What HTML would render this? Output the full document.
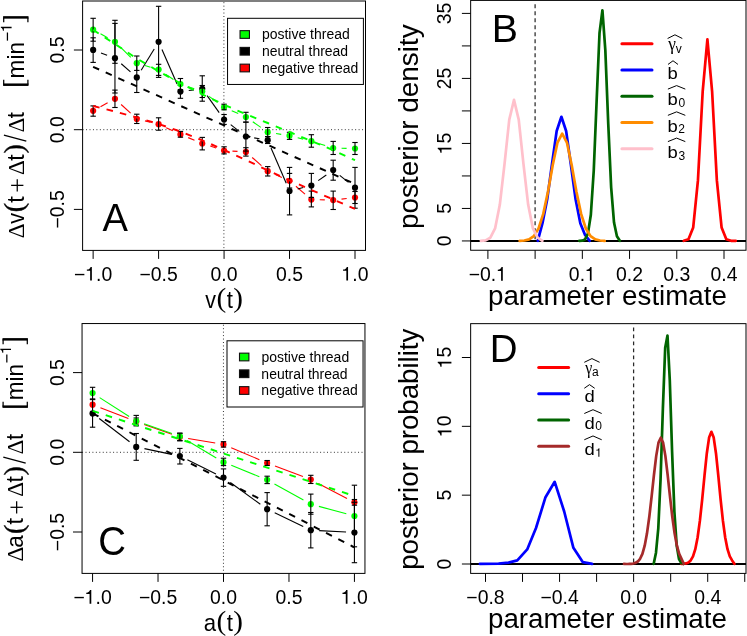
<!DOCTYPE html>
<html><head><meta charset="utf-8"><title>figure</title>
<style>html,body{margin:0;padding:0;background:#fff;}svg{display:block;will-change:transform;}</style>
</head><body>
<svg width="747" height="636" viewBox="0 0 747 636" font-family="Liberation Sans, sans-serif" fill="#000">
<rect x="0" y="0" width="747" height="636" fill="#fff"/>
<line x1="82.60" y1="129.70" x2="365.50" y2="129.70" stroke="#000" stroke-width="1" stroke-dasharray="1 2.45" opacity="0.8"/>
<line x1="223.90" y1="2.20" x2="223.90" y2="250.40" stroke="#000" stroke-width="1" stroke-dasharray="1 2.45" opacity="0.8"/>
<line x1="100.50" y1="106.75" x2="107.60" y2="102.85" stroke="#ff0000" stroke-width="1.1" />
<line x1="121.14" y1="104.49" x2="130.60" y2="113.21" stroke="#ff0000" stroke-width="1.1" />
<line x1="144.95" y1="120.88" x2="150.44" y2="122.22" stroke="#ff0000" stroke-width="1.1" />
<line x1="166.21" y1="127.76" x2="172.82" y2="130.84" stroke="#ff0000" stroke-width="1.1" />
<line x1="188.18" y1="137.63" x2="194.50" y2="140.27" stroke="#ff0000" stroke-width="1.1" />
<line x1="210.24" y1="146.10" x2="216.08" y2="148.00" stroke="#ff0000" stroke-width="1.1" />
<line x1="232.46" y1="151.10" x2="237.51" y2="151.40" stroke="#ff0000" stroke-width="1.1" />
<line x1="252.18" y1="157.47" x2="261.42" y2="165.63" stroke="#ff0000" stroke-width="1.1" />
<line x1="275.40" y1="174.58" x2="281.85" y2="177.42" stroke="#ff0000" stroke-width="1.1" />
<line x1="295.90" y1="186.28" x2="304.99" y2="194.12" stroke="#ff0000" stroke-width="1.1" />
<line x1="319.75" y1="199.79" x2="324.78" y2="199.91" stroke="#ff0000" stroke-width="1.1" />
<line x1="341.52" y1="199.11" x2="346.66" y2="198.49" stroke="#ff0000" stroke-width="1.1" />
<circle cx="93.14" cy="110.80" r="3.1" fill="#ff0000"/>
<circle cx="114.96" cy="98.80" r="3.1" fill="#ff0000"/>
<circle cx="136.78" cy="118.90" r="3.1" fill="#ff0000"/>
<circle cx="158.60" cy="124.20" r="3.1" fill="#ff0000"/>
<circle cx="180.43" cy="134.40" r="3.1" fill="#ff0000"/>
<circle cx="202.25" cy="143.50" r="3.1" fill="#ff0000"/>
<circle cx="224.07" cy="150.60" r="3.1" fill="#ff0000"/>
<circle cx="245.89" cy="151.90" r="3.1" fill="#ff0000"/>
<circle cx="267.71" cy="171.20" r="3.1" fill="#ff0000"/>
<circle cx="289.53" cy="180.80" r="3.1" fill="#ff0000"/>
<circle cx="311.36" cy="199.60" r="3.1" fill="#ff0000"/>
<circle cx="333.18" cy="200.10" r="3.1" fill="#ff0000"/>
<circle cx="355.00" cy="197.50" r="3.1" fill="#ff0000"/>
<line x1="93.14" y1="105.90" x2="93.14" y2="116.20" stroke="#000" stroke-width="1.1" />
<line x1="90.44" y1="105.90" x2="95.84" y2="105.90" stroke="#000" stroke-width="1.1" />
<line x1="90.44" y1="116.20" x2="95.84" y2="116.20" stroke="#000" stroke-width="1.1" />
<line x1="114.96" y1="90.10" x2="114.96" y2="107.50" stroke="#000" stroke-width="1.1" />
<line x1="112.26" y1="90.10" x2="117.66" y2="90.10" stroke="#000" stroke-width="1.1" />
<line x1="112.26" y1="107.50" x2="117.66" y2="107.50" stroke="#000" stroke-width="1.1" />
<line x1="136.78" y1="114.20" x2="136.78" y2="123.50" stroke="#000" stroke-width="1.1" />
<line x1="134.08" y1="114.20" x2="139.48" y2="114.20" stroke="#000" stroke-width="1.1" />
<line x1="134.08" y1="123.50" x2="139.48" y2="123.50" stroke="#000" stroke-width="1.1" />
<line x1="158.60" y1="117.80" x2="158.60" y2="130.20" stroke="#000" stroke-width="1.1" />
<line x1="155.91" y1="117.80" x2="161.30" y2="117.80" stroke="#000" stroke-width="1.1" />
<line x1="155.91" y1="130.20" x2="161.30" y2="130.20" stroke="#000" stroke-width="1.1" />
<line x1="180.43" y1="131.40" x2="180.43" y2="137.20" stroke="#000" stroke-width="1.1" />
<line x1="177.73" y1="131.40" x2="183.13" y2="131.40" stroke="#000" stroke-width="1.1" />
<line x1="177.73" y1="137.20" x2="183.13" y2="137.20" stroke="#000" stroke-width="1.1" />
<line x1="202.25" y1="137.40" x2="202.25" y2="149.90" stroke="#000" stroke-width="1.1" />
<line x1="199.55" y1="137.40" x2="204.95" y2="137.40" stroke="#000" stroke-width="1.1" />
<line x1="199.55" y1="149.90" x2="204.95" y2="149.90" stroke="#000" stroke-width="1.1" />
<line x1="224.07" y1="146.80" x2="224.07" y2="153.90" stroke="#000" stroke-width="1.1" />
<line x1="221.37" y1="146.80" x2="226.77" y2="146.80" stroke="#000" stroke-width="1.1" />
<line x1="221.37" y1="153.90" x2="226.77" y2="153.90" stroke="#000" stroke-width="1.1" />
<line x1="245.89" y1="147.70" x2="245.89" y2="156.10" stroke="#000" stroke-width="1.1" />
<line x1="243.19" y1="147.70" x2="248.59" y2="147.70" stroke="#000" stroke-width="1.1" />
<line x1="243.19" y1="156.10" x2="248.59" y2="156.10" stroke="#000" stroke-width="1.1" />
<line x1="267.71" y1="166.60" x2="267.71" y2="176.00" stroke="#000" stroke-width="1.1" />
<line x1="265.01" y1="166.60" x2="270.41" y2="166.60" stroke="#000" stroke-width="1.1" />
<line x1="265.01" y1="176.00" x2="270.41" y2="176.00" stroke="#000" stroke-width="1.1" />
<line x1="289.53" y1="173.40" x2="289.53" y2="188.00" stroke="#000" stroke-width="1.1" />
<line x1="286.83" y1="173.40" x2="292.23" y2="173.40" stroke="#000" stroke-width="1.1" />
<line x1="286.83" y1="188.00" x2="292.23" y2="188.00" stroke="#000" stroke-width="1.1" />
<line x1="311.36" y1="191.10" x2="311.36" y2="206.90" stroke="#000" stroke-width="1.1" />
<line x1="308.66" y1="191.10" x2="314.06" y2="191.10" stroke="#000" stroke-width="1.1" />
<line x1="308.66" y1="206.90" x2="314.06" y2="206.90" stroke="#000" stroke-width="1.1" />
<line x1="333.18" y1="191.10" x2="333.18" y2="209.50" stroke="#000" stroke-width="1.1" />
<line x1="330.48" y1="191.10" x2="335.88" y2="191.10" stroke="#000" stroke-width="1.1" />
<line x1="330.48" y1="209.50" x2="335.88" y2="209.50" stroke="#000" stroke-width="1.1" />
<line x1="355.00" y1="191.50" x2="355.00" y2="203.50" stroke="#000" stroke-width="1.1" />
<line x1="352.30" y1="191.50" x2="357.70" y2="191.50" stroke="#000" stroke-width="1.1" />
<line x1="352.30" y1="203.50" x2="357.70" y2="203.50" stroke="#000" stroke-width="1.1" />
<line x1="100.99" y1="52.89" x2="107.11" y2="55.21" stroke="#000000" stroke-width="1.1" />
<line x1="121.27" y1="63.75" x2="130.48" y2="71.85" stroke="#000000" stroke-width="1.1" />
<line x1="141.17" y1="70.24" x2="154.22" y2="48.96" stroke="#000000" stroke-width="1.1" />
<line x1="161.98" y1="49.49" x2="177.06" y2="83.91" stroke="#000000" stroke-width="1.1" />
<line x1="188.76" y1="90.53" x2="193.92" y2="89.87" stroke="#000000" stroke-width="1.1" />
<line x1="207.11" y1="95.65" x2="219.20" y2="112.65" stroke="#000000" stroke-width="1.1" />
<line x1="230.70" y1="124.66" x2="239.27" y2="131.34" stroke="#000000" stroke-width="1.1" />
<line x1="254.17" y1="137.90" x2="259.43" y2="138.80" stroke="#000000" stroke-width="1.1" />
<line x1="271.03" y1="147.92" x2="286.22" y2="183.28" stroke="#000000" stroke-width="1.1" />
<line x1="297.68" y1="188.95" x2="303.21" y2="187.55" stroke="#000000" stroke-width="1.1" />
<line x1="318.22" y1="180.66" x2="326.32" y2="174.94" stroke="#000000" stroke-width="1.1" />
<line x1="339.72" y1="175.37" x2="348.46" y2="182.43" stroke="#000000" stroke-width="1.1" />
<circle cx="93.14" cy="49.90" r="3.1" fill="#000000"/>
<circle cx="114.96" cy="58.20" r="3.1" fill="#000000"/>
<circle cx="136.78" cy="77.40" r="3.1" fill="#000000"/>
<circle cx="158.60" cy="41.80" r="3.1" fill="#000000"/>
<circle cx="180.43" cy="91.60" r="3.1" fill="#000000"/>
<circle cx="202.25" cy="88.80" r="3.1" fill="#000000"/>
<circle cx="224.07" cy="119.50" r="3.1" fill="#000000"/>
<circle cx="245.89" cy="136.50" r="3.1" fill="#000000"/>
<circle cx="267.71" cy="140.20" r="3.1" fill="#000000"/>
<circle cx="289.53" cy="191.00" r="3.1" fill="#000000"/>
<circle cx="311.36" cy="185.50" r="3.1" fill="#000000"/>
<circle cx="333.18" cy="170.10" r="3.1" fill="#000000"/>
<circle cx="355.00" cy="187.70" r="3.1" fill="#000000"/>
<line x1="93.14" y1="37.80" x2="93.14" y2="62.40" stroke="#000" stroke-width="1.1" />
<line x1="90.44" y1="37.80" x2="95.84" y2="37.80" stroke="#000" stroke-width="1.1" />
<line x1="90.44" y1="62.40" x2="95.84" y2="62.40" stroke="#000" stroke-width="1.1" />
<line x1="114.96" y1="23.40" x2="114.96" y2="93.00" stroke="#000" stroke-width="1.1" />
<line x1="112.26" y1="23.40" x2="117.66" y2="23.40" stroke="#000" stroke-width="1.1" />
<line x1="112.26" y1="93.00" x2="117.66" y2="93.00" stroke="#000" stroke-width="1.1" />
<line x1="136.78" y1="62.30" x2="136.78" y2="92.50" stroke="#000" stroke-width="1.1" />
<line x1="134.08" y1="62.30" x2="139.48" y2="62.30" stroke="#000" stroke-width="1.1" />
<line x1="134.08" y1="92.50" x2="139.48" y2="92.50" stroke="#000" stroke-width="1.1" />
<line x1="158.60" y1="6.30" x2="158.60" y2="77.40" stroke="#000" stroke-width="1.1" />
<line x1="155.91" y1="6.30" x2="161.30" y2="6.30" stroke="#000" stroke-width="1.1" />
<line x1="155.91" y1="77.40" x2="161.30" y2="77.40" stroke="#000" stroke-width="1.1" />
<line x1="180.43" y1="85.40" x2="180.43" y2="98.30" stroke="#000" stroke-width="1.1" />
<line x1="177.73" y1="85.40" x2="183.13" y2="85.40" stroke="#000" stroke-width="1.1" />
<line x1="177.73" y1="98.30" x2="183.13" y2="98.30" stroke="#000" stroke-width="1.1" />
<line x1="202.25" y1="75.80" x2="202.25" y2="101.20" stroke="#000" stroke-width="1.1" />
<line x1="199.55" y1="75.80" x2="204.95" y2="75.80" stroke="#000" stroke-width="1.1" />
<line x1="199.55" y1="101.20" x2="204.95" y2="101.20" stroke="#000" stroke-width="1.1" />
<line x1="224.07" y1="114.50" x2="224.07" y2="124.40" stroke="#000" stroke-width="1.1" />
<line x1="221.37" y1="114.50" x2="226.77" y2="114.50" stroke="#000" stroke-width="1.1" />
<line x1="221.37" y1="124.40" x2="226.77" y2="124.40" stroke="#000" stroke-width="1.1" />
<line x1="245.89" y1="122.10" x2="245.89" y2="151.10" stroke="#000" stroke-width="1.1" />
<line x1="243.19" y1="122.10" x2="248.59" y2="122.10" stroke="#000" stroke-width="1.1" />
<line x1="243.19" y1="151.10" x2="248.59" y2="151.10" stroke="#000" stroke-width="1.1" />
<line x1="267.71" y1="136.60" x2="267.71" y2="143.50" stroke="#000" stroke-width="1.1" />
<line x1="265.01" y1="136.60" x2="270.41" y2="136.60" stroke="#000" stroke-width="1.1" />
<line x1="265.01" y1="143.50" x2="270.41" y2="143.50" stroke="#000" stroke-width="1.1" />
<line x1="289.53" y1="167.40" x2="289.53" y2="214.90" stroke="#000" stroke-width="1.1" />
<line x1="286.83" y1="167.40" x2="292.23" y2="167.40" stroke="#000" stroke-width="1.1" />
<line x1="286.83" y1="214.90" x2="292.23" y2="214.90" stroke="#000" stroke-width="1.1" />
<line x1="311.36" y1="173.40" x2="311.36" y2="197.40" stroke="#000" stroke-width="1.1" />
<line x1="308.66" y1="173.40" x2="314.06" y2="173.40" stroke="#000" stroke-width="1.1" />
<line x1="308.66" y1="197.40" x2="314.06" y2="197.40" stroke="#000" stroke-width="1.1" />
<line x1="333.18" y1="160.20" x2="333.18" y2="180.20" stroke="#000" stroke-width="1.1" />
<line x1="330.48" y1="160.20" x2="335.88" y2="160.20" stroke="#000" stroke-width="1.1" />
<line x1="330.48" y1="180.20" x2="335.88" y2="180.20" stroke="#000" stroke-width="1.1" />
<line x1="355.00" y1="167.40" x2="355.00" y2="208.20" stroke="#000" stroke-width="1.1" />
<line x1="352.30" y1="167.40" x2="357.70" y2="167.40" stroke="#000" stroke-width="1.1" />
<line x1="352.30" y1="208.20" x2="357.70" y2="208.20" stroke="#000" stroke-width="1.1" />
<line x1="100.49" y1="33.77" x2="107.62" y2="37.73" stroke="#00ff00" stroke-width="1.1" />
<line x1="120.96" y1="47.68" x2="130.79" y2="57.32" stroke="#00ff00" stroke-width="1.1" />
<line x1="144.84" y1="65.56" x2="150.54" y2="67.24" stroke="#00ff00" stroke-width="1.1" />
<line x1="165.60" y1="74.25" x2="173.43" y2="79.45" stroke="#00ff00" stroke-width="1.1" />
<line x1="188.38" y1="86.80" x2="194.29" y2="88.80" stroke="#00ff00" stroke-width="1.1" />
<line x1="209.07" y1="96.41" x2="217.25" y2="102.29" stroke="#00ff00" stroke-width="1.1" />
<line x1="231.73" y1="110.64" x2="238.23" y2="113.56" stroke="#00ff00" stroke-width="1.1" />
<line x1="252.78" y1="121.80" x2="260.82" y2="127.40" stroke="#00ff00" stroke-width="1.1" />
<line x1="276.01" y1="133.53" x2="281.24" y2="134.37" stroke="#00ff00" stroke-width="1.1" />
<line x1="297.68" y1="137.75" x2="303.21" y2="139.15" stroke="#00ff00" stroke-width="1.1" />
<line x1="319.37" y1="143.73" x2="325.17" y2="145.57" stroke="#00ff00" stroke-width="1.1" />
<line x1="341.58" y1="148.25" x2="346.60" y2="148.35" stroke="#00ff00" stroke-width="1.1" />
<circle cx="93.14" cy="29.70" r="3.1" fill="#00ff00"/>
<circle cx="114.96" cy="41.80" r="3.1" fill="#00ff00"/>
<circle cx="136.78" cy="63.20" r="3.1" fill="#00ff00"/>
<circle cx="158.60" cy="69.60" r="3.1" fill="#00ff00"/>
<circle cx="180.43" cy="84.10" r="3.1" fill="#00ff00"/>
<circle cx="202.25" cy="91.50" r="3.1" fill="#00ff00"/>
<circle cx="224.07" cy="107.20" r="3.1" fill="#00ff00"/>
<circle cx="245.89" cy="117.00" r="3.1" fill="#00ff00"/>
<circle cx="267.71" cy="132.20" r="3.1" fill="#00ff00"/>
<circle cx="289.53" cy="135.70" r="3.1" fill="#00ff00"/>
<circle cx="311.36" cy="141.20" r="3.1" fill="#00ff00"/>
<circle cx="333.18" cy="148.10" r="3.1" fill="#00ff00"/>
<circle cx="355.00" cy="148.50" r="3.1" fill="#00ff00"/>
<line x1="93.14" y1="18.30" x2="93.14" y2="41.20" stroke="#000" stroke-width="1.1" />
<line x1="90.44" y1="18.30" x2="95.84" y2="18.30" stroke="#000" stroke-width="1.1" />
<line x1="90.44" y1="41.20" x2="95.84" y2="41.20" stroke="#000" stroke-width="1.1" />
<line x1="114.96" y1="20.30" x2="114.96" y2="63.30" stroke="#000" stroke-width="1.1" />
<line x1="112.26" y1="20.30" x2="117.66" y2="20.30" stroke="#000" stroke-width="1.1" />
<line x1="112.26" y1="63.30" x2="117.66" y2="63.30" stroke="#000" stroke-width="1.1" />
<line x1="136.78" y1="56.00" x2="136.78" y2="70.40" stroke="#000" stroke-width="1.1" />
<line x1="134.08" y1="56.00" x2="139.48" y2="56.00" stroke="#000" stroke-width="1.1" />
<line x1="134.08" y1="70.40" x2="139.48" y2="70.40" stroke="#000" stroke-width="1.1" />
<line x1="158.60" y1="64.30" x2="158.60" y2="75.40" stroke="#000" stroke-width="1.1" />
<line x1="155.91" y1="64.30" x2="161.30" y2="64.30" stroke="#000" stroke-width="1.1" />
<line x1="155.91" y1="75.40" x2="161.30" y2="75.40" stroke="#000" stroke-width="1.1" />
<line x1="180.43" y1="78.50" x2="180.43" y2="89.70" stroke="#000" stroke-width="1.1" />
<line x1="177.73" y1="78.50" x2="183.13" y2="78.50" stroke="#000" stroke-width="1.1" />
<line x1="177.73" y1="89.70" x2="183.13" y2="89.70" stroke="#000" stroke-width="1.1" />
<line x1="202.25" y1="85.50" x2="202.25" y2="97.50" stroke="#000" stroke-width="1.1" />
<line x1="199.55" y1="85.50" x2="204.95" y2="85.50" stroke="#000" stroke-width="1.1" />
<line x1="199.55" y1="97.50" x2="204.95" y2="97.50" stroke="#000" stroke-width="1.1" />
<line x1="224.07" y1="104.20" x2="224.07" y2="109.80" stroke="#000" stroke-width="1.1" />
<line x1="221.37" y1="104.20" x2="226.77" y2="104.20" stroke="#000" stroke-width="1.1" />
<line x1="221.37" y1="109.80" x2="226.77" y2="109.80" stroke="#000" stroke-width="1.1" />
<line x1="245.89" y1="112.30" x2="245.89" y2="122.20" stroke="#000" stroke-width="1.1" />
<line x1="243.19" y1="112.30" x2="248.59" y2="112.30" stroke="#000" stroke-width="1.1" />
<line x1="243.19" y1="122.20" x2="248.59" y2="122.20" stroke="#000" stroke-width="1.1" />
<line x1="267.71" y1="127.50" x2="267.71" y2="136.60" stroke="#000" stroke-width="1.1" />
<line x1="265.01" y1="127.50" x2="270.41" y2="127.50" stroke="#000" stroke-width="1.1" />
<line x1="265.01" y1="136.60" x2="270.41" y2="136.60" stroke="#000" stroke-width="1.1" />
<line x1="289.53" y1="132.30" x2="289.53" y2="139.40" stroke="#000" stroke-width="1.1" />
<line x1="286.83" y1="132.30" x2="292.23" y2="132.30" stroke="#000" stroke-width="1.1" />
<line x1="286.83" y1="139.40" x2="292.23" y2="139.40" stroke="#000" stroke-width="1.1" />
<line x1="311.36" y1="134.70" x2="311.36" y2="147.20" stroke="#000" stroke-width="1.1" />
<line x1="308.66" y1="134.70" x2="314.06" y2="134.70" stroke="#000" stroke-width="1.1" />
<line x1="308.66" y1="147.20" x2="314.06" y2="147.20" stroke="#000" stroke-width="1.1" />
<line x1="333.18" y1="141.40" x2="333.18" y2="154.50" stroke="#000" stroke-width="1.1" />
<line x1="330.48" y1="141.40" x2="335.88" y2="141.40" stroke="#000" stroke-width="1.1" />
<line x1="330.48" y1="154.50" x2="335.88" y2="154.50" stroke="#000" stroke-width="1.1" />
<line x1="355.00" y1="142.50" x2="355.00" y2="154.50" stroke="#000" stroke-width="1.1" />
<line x1="352.30" y1="142.50" x2="357.70" y2="142.50" stroke="#000" stroke-width="1.1" />
<line x1="352.30" y1="154.50" x2="357.70" y2="154.50" stroke="#000" stroke-width="1.1" />
<polyline points="93.14,106.00 114.96,111.50 136.78,117.50 158.60,124.00 180.43,131.50 202.25,140.30 224.07,150.00 245.89,160.00 267.71,170.30 289.53,180.30 311.36,190.00 333.18,199.50 355.00,208.90" fill="none" stroke="#ff0000" stroke-width="1.95" stroke-dasharray="6.6 7.2"/>
<polyline points="93.10,66.80 355.00,184.00" fill="none" stroke="#000000" stroke-width="1.95" stroke-dasharray="6.6 7.2"/>
<polyline points="93.14,29.90 114.96,44.00 136.78,58.50 158.60,71.30 180.43,83.30 202.25,94.30 224.07,104.70 245.89,114.20 267.71,123.00 289.53,132.00 311.36,141.00 333.18,150.20 355.00,160.20" fill="none" stroke="#00ff00" stroke-width="1.95" stroke-dasharray="6.6 7.2"/>
<rect x="82.6" y="1.0" width="282.9" height="249.4" fill="none" stroke="#000" stroke-width="1"/>
<line x1="93.14" y1="250.40" x2="93.14" y2="258.90" stroke="#000" stroke-width="1" />
<g transform="translate(73.99 280.60) scale(1.0000 1)"><text x="0.000" font-size="19.4" >−</text><path transform="translate(11.329 0) scale(19.4)" d="M0.337 0L0.337 -0.703L0.270 -0.703C0.254 -0.622 0.193 -0.574 0.079 -0.568L0.079 -0.505L0.249 -0.505L0.249 0Z"/><text x="22.120" font-size="19.4" >.0</text></g>
<line x1="158.60" y1="250.40" x2="158.60" y2="258.90" stroke="#000" stroke-width="1" />
<g transform="translate(139.46 280.60) scale(1.0000 1)"><text font-size="19.4"  >−0.5</text></g>
<line x1="224.07" y1="250.40" x2="224.07" y2="258.90" stroke="#000" stroke-width="1" />
<g transform="translate(210.59 280.60) scale(1.0000 1)"><text font-size="19.4"  >0.0</text></g>
<line x1="289.53" y1="250.40" x2="289.53" y2="258.90" stroke="#000" stroke-width="1" />
<g transform="translate(276.05 280.60) scale(1.0000 1)"><text font-size="19.4"  >0.5</text></g>
<line x1="355.00" y1="250.40" x2="355.00" y2="258.90" stroke="#000" stroke-width="1" />
<g transform="translate(341.52 280.60) scale(1.0000 1)"><path transform="translate(0.000 0) scale(19.4)" d="M0.337 0L0.337 -0.703L0.270 -0.703C0.254 -0.622 0.193 -0.574 0.079 -0.568L0.079 -0.505L0.249 -0.505L0.249 0Z"/><text x="10.790" font-size="19.4" >.0</text></g>
<line x1="82.60" y1="209.40" x2="73.90" y2="209.40" stroke="#000" stroke-width="1" />
<g transform="translate(63.50 228.55) rotate(-90) scale(1.0000 1)"><text font-size="19.4"  >−0.5</text></g>
<line x1="82.60" y1="129.70" x2="73.90" y2="129.70" stroke="#000" stroke-width="1" />
<g transform="translate(63.50 143.18) rotate(-90) scale(1.0000 1)"><text font-size="19.4"  >0.0</text></g>
<line x1="82.60" y1="50.00" x2="73.90" y2="50.00" stroke="#000" stroke-width="1" />
<g transform="translate(63.50 63.48) rotate(-90) scale(1.0000 1)"><text font-size="19.4"  >0.5</text></g>
<g transform="translate(205.33 308.00) scale(0.9146 1)"><text font-size="23.5"  >v</text></g>
<g transform="translate(216.62 307.40) scale(1.0429 1)"><text font-size="28" font-family="Liberation Serif, serif" >(</text></g>
<g transform="translate(226.76 308.00) scale(0.9300 1)"><text font-size="24"  >t</text></g>
<g transform="translate(233.16 307.40) scale(1.0429 1)"><text font-size="28" font-family="Liberation Serif, serif" >)</text></g>
<g transform="translate(23.70 238.28) rotate(-90) scale(0.9952 1)"><text font-size="23.2" font-family="Liberation Serif, serif" >Δ</text></g>
<g transform="translate(23.70 223.77) rotate(-90) scale(0.9233 1)"><text font-size="23.5"  >v</text></g>
<g transform="translate(23.20 212.15) rotate(-90) scale(1.0151 1)"><text font-size="28" font-family="Liberation Serif, serif" stroke="#000" stroke-width="0.35">(</text></g>
<g transform="translate(23.70 202.66) rotate(-90) scale(0.9790 1)"><text font-size="24"  >t</text></g>
<line x1="17.25" y1="179.20" x2="17.25" y2="191.50" stroke="#000" stroke-width="1.25" />
<line x1="11.10" y1="185.35" x2="23.40" y2="185.35" stroke="#000" stroke-width="1.25" />
<g transform="translate(23.70 174.88) rotate(-90) scale(0.9952 1)"><text font-size="23.2" font-family="Liberation Serif, serif" >Δ</text></g>
<g transform="translate(23.70 160.64) rotate(-90) scale(0.9463 1)"><text font-size="24"  >t</text></g>
<g transform="translate(23.20 153.59) rotate(-90) scale(0.9873 1)"><text font-size="28" font-family="Liberation Serif, serif" stroke="#000" stroke-width="0.35">)</text></g>
<line x1="26.30" y1="141.20" x2="3.90" y2="135.10" stroke="#000" stroke-width="1.3" />
<g transform="translate(23.70 132.49) rotate(-90) scale(1.0028 1)"><text font-size="23.2" font-family="Liberation Serif, serif" >Δ</text></g>
<g transform="translate(23.70 118.14) rotate(-90) scale(0.9300 1)"><text font-size="24"  >t</text></g>
<line x1="3.10" y1="84.70" x2="28.50" y2="84.70" stroke="#000" stroke-width="2.5" />
<line x1="3.70" y1="84.70" x2="3.70" y2="79.70" stroke="#000" stroke-width="1.25" />
<line x1="27.90" y1="84.70" x2="27.90" y2="79.70" stroke="#000" stroke-width="1.25" />
<g transform="translate(23.70 78.40) rotate(-90) scale(0.9757 1)"><text font-size="23.2"  >min</text></g>
<line x1="7.43" y1="40.65" x2="7.43" y2="32.50" stroke="#000" stroke-width="1.25" />
<g transform="translate(11.60 31.96) rotate(-90)"><path transform="translate(0.000 0) scale(15.3)" d="M0.337 0L0.337 -0.703L0.270 -0.703C0.254 -0.622 0.193 -0.574 0.079 -0.568L0.079 -0.505L0.249 -0.505L0.249 0Z"/></g>
<line x1="3.10" y1="17.40" x2="28.50" y2="17.40" stroke="#000" stroke-width="2.5" />
<line x1="3.70" y1="17.40" x2="3.70" y2="22.30" stroke="#000" stroke-width="1.25" />
<line x1="27.90" y1="17.40" x2="27.90" y2="22.30" stroke="#000" stroke-width="1.25" />
<rect x="227.55" y="18.3" width="135.85" height="66.15" fill="#fff" stroke="#000" stroke-width="1"/>
<rect x="240.05" y="30.65" width="9.4" height="7.7" fill="#00ff00" stroke="#111" stroke-width="1.1"/>
<g transform="translate(261.95 39.40) scale(1.0000 1)"><text font-size="13.987495487690419"  >postive thread</text></g>
<rect x="240.05" y="47.40" width="9.4" height="7.7" fill="#000000" stroke="#111" stroke-width="1.1"/>
<g transform="translate(261.92 56.15) scale(1.0000 1)"><text font-size="13.987495487690419"  >neutral thread</text></g>
<rect x="240.05" y="64.15" width="9.4" height="7.7" fill="#ff0000" stroke="#111" stroke-width="1.1"/>
<g transform="translate(261.92 72.90) scale(1.0000 1)"><text font-size="13.987495487690419"  >negative thread</text></g>
<g transform="translate(102.43 230.70) scale(0.9635 1)"><text font-size="39.6"  >A</text></g>
<line x1="82.05" y1="452.30" x2="364.95" y2="452.30" stroke="#000" stroke-width="1" stroke-dasharray="1 2.45" opacity="0.8"/>
<line x1="223.45" y1="324.75" x2="223.45" y2="573.40" stroke="#000" stroke-width="1" stroke-dasharray="1 2.45" opacity="0.8"/>
<line x1="100.40" y1="407.73" x2="128.38" y2="418.57" stroke="#ff0000" stroke-width="1.1" />
<line x1="144.13" y1="424.41" x2="171.94" y2="434.29" stroke="#ff0000" stroke-width="1.1" />
<line x1="188.14" y1="438.49" x2="215.22" y2="443.01" stroke="#ff0000" stroke-width="1.1" />
<line x1="231.23" y1="447.69" x2="259.42" y2="459.71" stroke="#ff0000" stroke-width="1.1" />
<line x1="274.99" y1="465.99" x2="302.94" y2="476.61" stroke="#ff0000" stroke-width="1.1" />
<line x1="318.24" y1="483.48" x2="346.98" y2="498.42" stroke="#ff0000" stroke-width="1.1" />
<circle cx="92.57" cy="404.70" r="3.1" fill="#ff0000"/>
<circle cx="136.21" cy="421.60" r="3.1" fill="#ff0000"/>
<circle cx="179.86" cy="437.10" r="3.1" fill="#ff0000"/>
<circle cx="223.50" cy="444.40" r="3.1" fill="#ff0000"/>
<circle cx="267.14" cy="463.00" r="3.1" fill="#ff0000"/>
<circle cx="310.79" cy="479.60" r="3.1" fill="#ff0000"/>
<circle cx="354.43" cy="502.30" r="3.1" fill="#ff0000"/>
<line x1="136.21" y1="418.00" x2="136.21" y2="425.00" stroke="#000" stroke-width="1.1" />
<line x1="133.51" y1="418.00" x2="138.91" y2="418.00" stroke="#000" stroke-width="1.1" />
<line x1="133.51" y1="425.00" x2="138.91" y2="425.00" stroke="#000" stroke-width="1.1" />
<line x1="179.86" y1="433.50" x2="179.86" y2="440.80" stroke="#000" stroke-width="1.1" />
<line x1="177.16" y1="433.50" x2="182.56" y2="433.50" stroke="#000" stroke-width="1.1" />
<line x1="177.16" y1="440.80" x2="182.56" y2="440.80" stroke="#000" stroke-width="1.1" />
<line x1="223.50" y1="441.70" x2="223.50" y2="447.10" stroke="#000" stroke-width="1.1" />
<line x1="220.80" y1="441.70" x2="226.20" y2="441.70" stroke="#000" stroke-width="1.1" />
<line x1="220.80" y1="447.10" x2="226.20" y2="447.10" stroke="#000" stroke-width="1.1" />
<line x1="267.14" y1="460.50" x2="267.14" y2="465.50" stroke="#000" stroke-width="1.1" />
<line x1="264.44" y1="460.50" x2="269.84" y2="460.50" stroke="#000" stroke-width="1.1" />
<line x1="264.44" y1="465.50" x2="269.84" y2="465.50" stroke="#000" stroke-width="1.1" />
<line x1="310.79" y1="475.30" x2="310.79" y2="483.50" stroke="#000" stroke-width="1.1" />
<line x1="308.09" y1="475.30" x2="313.49" y2="475.30" stroke="#000" stroke-width="1.1" />
<line x1="308.09" y1="483.50" x2="313.49" y2="483.50" stroke="#000" stroke-width="1.1" />
<line x1="354.43" y1="499.50" x2="354.43" y2="505.20" stroke="#000" stroke-width="1.1" />
<line x1="351.73" y1="499.50" x2="357.13" y2="499.50" stroke="#000" stroke-width="1.1" />
<line x1="351.73" y1="505.20" x2="357.13" y2="505.20" stroke="#000" stroke-width="1.1" />
<line x1="99.23" y1="418.51" x2="129.55" y2="441.79" stroke="#000000" stroke-width="1.1" />
<line x1="144.43" y1="448.63" x2="171.64" y2="454.37" stroke="#000000" stroke-width="1.1" />
<line x1="187.39" y1="459.81" x2="215.96" y2="473.89" stroke="#000000" stroke-width="1.1" />
<line x1="230.30" y1="482.53" x2="260.34" y2="504.27" stroke="#000000" stroke-width="1.1" />
<line x1="274.71" y1="512.84" x2="303.22" y2="526.56" stroke="#000000" stroke-width="1.1" />
<line x1="319.18" y1="530.64" x2="346.04" y2="532.06" stroke="#000000" stroke-width="1.1" />
<circle cx="92.57" cy="413.40" r="3.1" fill="#000000"/>
<circle cx="136.21" cy="446.90" r="3.1" fill="#000000"/>
<circle cx="179.86" cy="456.10" r="3.1" fill="#000000"/>
<circle cx="223.50" cy="477.60" r="3.1" fill="#000000"/>
<circle cx="267.14" cy="509.20" r="3.1" fill="#000000"/>
<circle cx="310.79" cy="530.20" r="3.1" fill="#000000"/>
<circle cx="354.43" cy="532.50" r="3.1" fill="#000000"/>
<line x1="92.57" y1="399.60" x2="92.57" y2="427.20" stroke="#000" stroke-width="1.1" />
<line x1="89.87" y1="399.60" x2="95.27" y2="399.60" stroke="#000" stroke-width="1.1" />
<line x1="89.87" y1="427.20" x2="95.27" y2="427.20" stroke="#000" stroke-width="1.1" />
<line x1="136.21" y1="433.50" x2="136.21" y2="460.30" stroke="#000" stroke-width="1.1" />
<line x1="133.51" y1="433.50" x2="138.91" y2="433.50" stroke="#000" stroke-width="1.1" />
<line x1="133.51" y1="460.30" x2="138.91" y2="460.30" stroke="#000" stroke-width="1.1" />
<line x1="179.86" y1="448.40" x2="179.86" y2="464.00" stroke="#000" stroke-width="1.1" />
<line x1="177.16" y1="448.40" x2="182.56" y2="448.40" stroke="#000" stroke-width="1.1" />
<line x1="177.16" y1="464.00" x2="182.56" y2="464.00" stroke="#000" stroke-width="1.1" />
<line x1="223.50" y1="468.90" x2="223.50" y2="486.30" stroke="#000" stroke-width="1.1" />
<line x1="220.80" y1="468.90" x2="226.20" y2="468.90" stroke="#000" stroke-width="1.1" />
<line x1="220.80" y1="486.30" x2="226.20" y2="486.30" stroke="#000" stroke-width="1.1" />
<line x1="267.14" y1="492.60" x2="267.14" y2="525.80" stroke="#000" stroke-width="1.1" />
<line x1="264.44" y1="492.60" x2="269.84" y2="492.60" stroke="#000" stroke-width="1.1" />
<line x1="264.44" y1="525.80" x2="269.84" y2="525.80" stroke="#000" stroke-width="1.1" />
<line x1="310.79" y1="512.50" x2="310.79" y2="547.90" stroke="#000" stroke-width="1.1" />
<line x1="308.09" y1="512.50" x2="313.49" y2="512.50" stroke="#000" stroke-width="1.1" />
<line x1="308.09" y1="547.90" x2="313.49" y2="547.90" stroke="#000" stroke-width="1.1" />
<line x1="354.43" y1="502.30" x2="354.43" y2="562.70" stroke="#000" stroke-width="1.1" />
<line x1="351.73" y1="502.30" x2="357.13" y2="502.30" stroke="#000" stroke-width="1.1" />
<line x1="351.73" y1="562.70" x2="357.13" y2="562.70" stroke="#000" stroke-width="1.1" />
<line x1="99.65" y1="397.62" x2="129.14" y2="416.48" stroke="#00ff00" stroke-width="1.1" />
<line x1="144.14" y1="423.78" x2="171.93" y2="433.52" stroke="#00ff00" stroke-width="1.1" />
<line x1="187.08" y1="440.59" x2="216.28" y2="457.91" stroke="#00ff00" stroke-width="1.1" />
<line x1="231.29" y1="465.34" x2="259.35" y2="476.66" stroke="#00ff00" stroke-width="1.1" />
<line x1="274.48" y1="483.90" x2="303.45" y2="500.10" stroke="#00ff00" stroke-width="1.1" />
<line x1="318.90" y1="506.39" x2="346.32" y2="513.81" stroke="#00ff00" stroke-width="1.1" />
<circle cx="92.57" cy="393.10" r="3.1" fill="#00ff00"/>
<circle cx="136.21" cy="421.00" r="3.1" fill="#00ff00"/>
<circle cx="179.86" cy="436.30" r="3.1" fill="#00ff00"/>
<circle cx="223.50" cy="462.20" r="3.1" fill="#00ff00"/>
<circle cx="267.14" cy="479.80" r="3.1" fill="#00ff00"/>
<circle cx="310.79" cy="504.20" r="3.1" fill="#00ff00"/>
<circle cx="354.43" cy="516.00" r="3.1" fill="#00ff00"/>
<line x1="92.57" y1="387.30" x2="92.57" y2="398.90" stroke="#000" stroke-width="1.1" />
<line x1="89.87" y1="387.30" x2="95.27" y2="387.30" stroke="#000" stroke-width="1.1" />
<line x1="89.87" y1="398.90" x2="95.27" y2="398.90" stroke="#000" stroke-width="1.1" />
<line x1="136.21" y1="415.40" x2="136.21" y2="425.90" stroke="#000" stroke-width="1.1" />
<line x1="133.51" y1="415.40" x2="138.91" y2="415.40" stroke="#000" stroke-width="1.1" />
<line x1="133.51" y1="425.90" x2="138.91" y2="425.90" stroke="#000" stroke-width="1.1" />
<line x1="179.86" y1="433.00" x2="179.86" y2="440.60" stroke="#000" stroke-width="1.1" />
<line x1="177.16" y1="433.00" x2="182.56" y2="433.00" stroke="#000" stroke-width="1.1" />
<line x1="177.16" y1="440.60" x2="182.56" y2="440.60" stroke="#000" stroke-width="1.1" />
<line x1="223.50" y1="458.20" x2="223.50" y2="465.60" stroke="#000" stroke-width="1.1" />
<line x1="220.80" y1="458.20" x2="226.20" y2="458.20" stroke="#000" stroke-width="1.1" />
<line x1="220.80" y1="465.60" x2="226.20" y2="465.60" stroke="#000" stroke-width="1.1" />
<line x1="267.14" y1="476.20" x2="267.14" y2="483.60" stroke="#000" stroke-width="1.1" />
<line x1="264.44" y1="476.20" x2="269.84" y2="476.20" stroke="#000" stroke-width="1.1" />
<line x1="264.44" y1="483.60" x2="269.84" y2="483.60" stroke="#000" stroke-width="1.1" />
<line x1="310.79" y1="494.10" x2="310.79" y2="514.20" stroke="#000" stroke-width="1.1" />
<line x1="308.09" y1="494.10" x2="313.49" y2="494.10" stroke="#000" stroke-width="1.1" />
<line x1="308.09" y1="514.20" x2="313.49" y2="514.20" stroke="#000" stroke-width="1.1" />
<line x1="354.43" y1="485.20" x2="354.43" y2="546.80" stroke="#000" stroke-width="1.1" />
<line x1="351.73" y1="485.20" x2="357.13" y2="485.20" stroke="#000" stroke-width="1.1" />
<line x1="351.73" y1="546.80" x2="357.13" y2="546.80" stroke="#000" stroke-width="1.1" />
<polyline points="92.60,413.40 354.40,547.30" fill="none" stroke="#000000" stroke-width="1.95" stroke-dasharray="6.6 7.2"/>
<polyline points="92.60,410.90 348.30,494.00" fill="none" stroke="#00ff00" stroke-width="1.95" stroke-dasharray="6.6 7.2"/>
<rect x="82.05" y="323.55" width="282.9" height="249.84999999999997" fill="none" stroke="#000" stroke-width="1"/>
<line x1="92.57" y1="573.40" x2="92.57" y2="581.90" stroke="#000" stroke-width="1" />
<g transform="translate(73.42 603.70) scale(1.0000 1)"><text x="0.000" font-size="19.4" >−</text><path transform="translate(11.329 0) scale(19.4)" d="M0.337 0L0.337 -0.703L0.270 -0.703C0.254 -0.622 0.193 -0.574 0.079 -0.568L0.079 -0.505L0.249 -0.505L0.249 0Z"/><text x="22.120" font-size="19.4" >.0</text></g>
<line x1="158.03" y1="573.40" x2="158.03" y2="581.90" stroke="#000" stroke-width="1" />
<g transform="translate(138.89 603.70) scale(1.0000 1)"><text font-size="19.4"  >−0.5</text></g>
<line x1="223.50" y1="573.40" x2="223.50" y2="581.90" stroke="#000" stroke-width="1" />
<g transform="translate(210.02 603.70) scale(1.0000 1)"><text font-size="19.4"  >0.0</text></g>
<line x1="288.97" y1="573.40" x2="288.97" y2="581.90" stroke="#000" stroke-width="1" />
<g transform="translate(275.48 603.70) scale(1.0000 1)"><text font-size="19.4"  >0.5</text></g>
<line x1="354.43" y1="573.40" x2="354.43" y2="581.90" stroke="#000" stroke-width="1" />
<g transform="translate(340.95 603.70) scale(1.0000 1)"><path transform="translate(0.000 0) scale(19.4)" d="M0.337 0L0.337 -0.703L0.270 -0.703C0.254 -0.622 0.193 -0.574 0.079 -0.568L0.079 -0.505L0.249 -0.505L0.249 0Z"/><text x="10.790" font-size="19.4" >.0</text></g>
<line x1="82.05" y1="532.00" x2="73.00" y2="532.00" stroke="#000" stroke-width="1" />
<g transform="translate(63.50 551.15) rotate(-90) scale(1.0000 1)"><text font-size="19.4"  >−0.5</text></g>
<line x1="82.05" y1="452.30" x2="73.00" y2="452.30" stroke="#000" stroke-width="1" />
<g transform="translate(63.50 465.78) rotate(-90) scale(1.0000 1)"><text font-size="19.4"  >0.0</text></g>
<line x1="82.05" y1="372.60" x2="73.00" y2="372.60" stroke="#000" stroke-width="1" />
<g transform="translate(63.50 386.08) rotate(-90) scale(1.0000 1)"><text font-size="19.4"  >0.5</text></g>
<g transform="translate(203.66 630.90) scale(0.9325 1)"><text font-size="23.8"  >a</text></g>
<g transform="translate(216.62 630.30) scale(1.0429 1)"><text font-size="28" font-family="Liberation Serif, serif" >(</text></g>
<g transform="translate(226.76 630.90) scale(0.9300 1)"><text font-size="24"  >t</text></g>
<g transform="translate(233.16 630.30) scale(1.0429 1)"><text font-size="28" font-family="Liberation Serif, serif" >)</text></g>
<g transform="translate(23.10 561.58) rotate(-90) scale(0.9952 1)"><text font-size="23.2" font-family="Liberation Serif, serif" >Δ</text></g>
<g transform="translate(23.10 547.66) rotate(-90) scale(0.9488 1)"><text font-size="23.8"  >a</text></g>
<g transform="translate(22.60 534.10) rotate(-90) scale(1.0151 1)"><text font-size="28" font-family="Liberation Serif, serif" stroke="#000" stroke-width="0.35">(</text></g>
<g transform="translate(23.10 524.61) rotate(-90) scale(0.9790 1)"><text font-size="24"  >t</text></g>
<line x1="16.65" y1="501.15" x2="16.65" y2="513.45" stroke="#000" stroke-width="1.25" />
<line x1="10.50" y1="507.30" x2="22.80" y2="507.30" stroke="#000" stroke-width="1.25" />
<g transform="translate(23.10 496.83) rotate(-90) scale(0.9952 1)"><text font-size="23.2" font-family="Liberation Serif, serif" >Δ</text></g>
<g transform="translate(23.10 482.59) rotate(-90) scale(0.9463 1)"><text font-size="24"  >t</text></g>
<g transform="translate(22.60 475.54) rotate(-90) scale(0.9873 1)"><text font-size="28" font-family="Liberation Serif, serif" stroke="#000" stroke-width="0.35">)</text></g>
<line x1="25.70" y1="463.15" x2="3.30" y2="457.05" stroke="#000" stroke-width="1.3" />
<g transform="translate(23.10 454.44) rotate(-90) scale(1.0028 1)"><text font-size="23.2" font-family="Liberation Serif, serif" >Δ</text></g>
<g transform="translate(23.10 440.09) rotate(-90) scale(0.9300 1)"><text font-size="24"  >t</text></g>
<line x1="2.50" y1="406.65" x2="27.90" y2="406.65" stroke="#000" stroke-width="2.5" />
<line x1="3.10" y1="406.65" x2="3.10" y2="401.65" stroke="#000" stroke-width="1.25" />
<line x1="27.30" y1="406.65" x2="27.30" y2="401.65" stroke="#000" stroke-width="1.25" />
<g transform="translate(23.10 400.35) rotate(-90) scale(0.9757 1)"><text font-size="23.2"  >min</text></g>
<line x1="6.83" y1="362.60" x2="6.83" y2="354.45" stroke="#000" stroke-width="1.25" />
<g transform="translate(11.00 353.91) rotate(-90)"><path transform="translate(0.000 0) scale(15.3)" d="M0.337 0L0.337 -0.703L0.270 -0.703C0.254 -0.622 0.193 -0.574 0.079 -0.568L0.079 -0.505L0.249 -0.505L0.249 0Z"/></g>
<line x1="2.50" y1="339.35" x2="27.90" y2="339.35" stroke="#000" stroke-width="2.5" />
<line x1="3.10" y1="339.35" x2="3.10" y2="344.25" stroke="#000" stroke-width="1.25" />
<line x1="27.30" y1="339.35" x2="27.30" y2="344.25" stroke="#000" stroke-width="1.25" />
<rect x="227.0" y="340.8" width="136.05" height="66.2" fill="#fff" stroke="#000" stroke-width="1"/>
<rect x="239.50" y="353.15" width="9.4" height="7.7" fill="#00ff00" stroke="#111" stroke-width="1.1"/>
<g transform="translate(261.40 361.90) scale(1.0000 1)"><text font-size="13.987495487690419"  >postive thread</text></g>
<rect x="239.50" y="369.90" width="9.4" height="7.7" fill="#000000" stroke="#111" stroke-width="1.1"/>
<g transform="translate(261.37 378.65) scale(1.0000 1)"><text font-size="13.987495487690419"  >neutral thread</text></g>
<rect x="239.50" y="386.65" width="9.4" height="7.7" fill="#ff0000" stroke="#111" stroke-width="1.1"/>
<g transform="translate(261.37 395.40) scale(1.0000 1)"><text font-size="13.987495487690419"  >negative thread</text></g>
<g transform="translate(98.15 555.20) scale(0.9545 1)"><text font-size="40.2"  >C</text></g>
<line x1="470.65" y1="240.95" x2="746.00" y2="240.95" stroke="#000" stroke-width="2.0" />
<line x1="535.10" y1="4.30" x2="535.10" y2="241.95" stroke="#2a2a2a" stroke-width="1.25" stroke-dasharray="3.9 3.1"/>
<polyline points="683.75,240.80 688.48,239.31 693.21,227.48 697.94,180.40 702.67,91.74 707.40,39.41 712.13,91.74 716.86,180.40 721.59,227.48 726.32,239.31 731.05,240.84 735.78,240.80" fill="none" stroke="#ff0000" stroke-width="2.7" stroke-linejoin="round" stroke-linecap="round"/>
<polyline points="537.75,240.80 542.48,223.14 547.21,199.30 551.94,164.53 556.67,130.97 561.40,116.77 566.13,130.97 570.86,164.53 575.59,199.30 580.32,223.14 585.05,234.98 589.78,240.80" fill="none" stroke="#0000ff" stroke-width="2.7" stroke-linejoin="round" stroke-linecap="round"/>
<polyline points="579.24,240.80 582.13,240.72 585.03,239.43 587.93,233.64 590.84,214.72 593.74,170.77 596.63,100.96 599.53,32.81 602.43,10.26 605.34,50.37 608.24,123.59 611.13,187.08 614.03,222.52 616.93,236.25 619.84,240.80" fill="none" stroke="#006400" stroke-width="2.7" stroke-linejoin="round" stroke-linecap="round"/>
<polyline points="519.63,240.80 524.36,240.52 529.09,239.37 533.82,236.11 538.55,228.48 543.28,213.89 548.01,191.51 552.74,164.92 557.47,142.52 562.20,133.68 566.93,142.52 571.66,164.92 576.39,191.51 581.12,213.89 585.85,228.48 590.58,236.11 595.31,239.37 600.04,240.52 604.77,240.80" fill="none" stroke="#ff8c00" stroke-width="2.7" stroke-linejoin="round" stroke-linecap="round"/>
<polyline points="480.89,240.80 485.62,240.34 490.35,237.73 495.08,228.40 499.81,204.79 504.54,163.91 509.27,119.67 514.00,99.87 518.73,119.67 523.46,163.91 528.19,204.79 532.92,228.40 537.65,237.73 542.38,240.80" fill="none" stroke="#ffc0cb" stroke-width="2.7" stroke-linejoin="round" stroke-linecap="round"/>
<rect x="470.65" y="0.4" width="275.35" height="249.85" fill="none" stroke="#000" stroke-width="1"/>
<line x1="487.90" y1="250.25" x2="487.90" y2="258.90" stroke="#000" stroke-width="1" />
<g transform="translate(468.75 280.70) scale(1.0000 1)"><text x="0.000" font-size="19.4" >−0.</text><path transform="translate(27.509 0) scale(19.4)" d="M0.337 0L0.337 -0.703L0.270 -0.703C0.254 -0.622 0.193 -0.574 0.079 -0.568L0.079 -0.505L0.249 -0.505L0.249 0Z"/></g>
<line x1="535.12" y1="250.25" x2="535.12" y2="258.90" stroke="#000" stroke-width="1" />
<line x1="582.34" y1="250.25" x2="582.34" y2="258.90" stroke="#000" stroke-width="1" />
<g transform="translate(568.86 280.70) scale(1.0000 1)"><text x="0.000" font-size="19.4" >0.</text><path transform="translate(16.179 0) scale(19.4)" d="M0.337 0L0.337 -0.703L0.270 -0.703C0.254 -0.622 0.193 -0.574 0.079 -0.568L0.079 -0.505L0.249 -0.505L0.249 0Z"/></g>
<line x1="629.56" y1="250.25" x2="629.56" y2="258.90" stroke="#000" stroke-width="1" />
<g transform="translate(616.08 280.70) scale(1.0000 1)"><text font-size="19.4"  >0.2</text></g>
<line x1="676.78" y1="250.25" x2="676.78" y2="258.90" stroke="#000" stroke-width="1" />
<g transform="translate(663.30 280.70) scale(1.0000 1)"><text font-size="19.4"  >0.3</text></g>
<line x1="724.00" y1="250.25" x2="724.00" y2="258.90" stroke="#000" stroke-width="1" />
<g transform="translate(710.52 280.70) scale(1.0000 1)"><text font-size="19.4"  >0.4</text></g>
<line x1="470.65" y1="240.95" x2="461.90" y2="240.95" stroke="#000" stroke-width="1" />
<g transform="translate(451.40 246.34) rotate(-90) scale(1.0000 1)"><text font-size="19.4"  >0</text></g>
<line x1="470.65" y1="208.44" x2="461.90" y2="208.44" stroke="#000" stroke-width="1" />
<g transform="translate(451.40 213.84) rotate(-90) scale(1.0000 1)"><text font-size="19.4"  >5</text></g>
<line x1="470.65" y1="175.94" x2="461.90" y2="175.94" stroke="#000" stroke-width="1" />
<line x1="470.65" y1="143.43" x2="461.90" y2="143.43" stroke="#000" stroke-width="1" />
<g transform="translate(451.40 154.22) rotate(-90) scale(1.0000 1)"><path transform="translate(0.000 0) scale(19.4)" d="M0.337 0L0.337 -0.703L0.270 -0.703C0.254 -0.622 0.193 -0.574 0.079 -0.568L0.079 -0.505L0.249 -0.505L0.249 0Z"/><text x="10.790" font-size="19.4" >5</text></g>
<line x1="470.65" y1="110.92" x2="461.90" y2="110.92" stroke="#000" stroke-width="1" />
<line x1="470.65" y1="78.41" x2="461.90" y2="78.41" stroke="#000" stroke-width="1" />
<g transform="translate(451.40 89.20) rotate(-90) scale(1.0000 1)"><text font-size="19.4"  >25</text></g>
<line x1="470.65" y1="45.91" x2="461.90" y2="45.91" stroke="#000" stroke-width="1" />
<line x1="470.65" y1="13.40" x2="461.90" y2="13.40" stroke="#000" stroke-width="1" />
<g transform="translate(451.40 24.19) rotate(-90) scale(1.0000 1)"><text font-size="19.4"  >35</text></g>
<g transform="translate(488.01 305.30) scale(1.0053 1)"><text font-size="27.6"  >parameter estimate</text></g>
<g transform="translate(417.80 229.00) rotate(-90) scale(1.0111 1)"><text font-size="27.6"  >posterior density</text></g>
<g transform="translate(491.78 41.50) scale(0.9916 1)"><text font-size="39.6"  >B</text></g>
<line x1="621.90" y1="43.70" x2="652.00" y2="43.70" stroke="#ff0000" stroke-width="3" stroke-linecap="round"/>
<g transform="translate(668.33 50.10) scale(0.9647 1)"><text font-size="18" font-family="Liberation Serif, serif" >γ</text></g>
<g transform="translate(675.86 52.60) scale(1.0000 1)"><text font-size="12"  >v</text></g>
<polyline points="667.60,38.50 674.95,34.80 682.30,38.50" fill="none" stroke="#000" stroke-width="1.0" stroke-linejoin="miter"/>
<line x1="621.90" y1="69.95" x2="652.00" y2="69.95" stroke="#0000ff" stroke-width="3" stroke-linecap="round"/>
<g transform="translate(667.41 79.10) scale(1.0921 1)"><text font-size="16.9"  >b</text></g>
<polyline points="668.00,64.45 673.00,60.75 678.00,64.45" fill="none" stroke="#000" stroke-width="1.0" stroke-linejoin="miter"/>
<line x1="621.90" y1="96.20" x2="652.00" y2="96.20" stroke="#006400" stroke-width="3" stroke-linecap="round"/>
<g transform="translate(667.41 105.35) scale(1.0921 1)"><text font-size="16.9"  >b</text></g>
<g transform="translate(678.43 107.00) scale(1.0000 1)"><text font-size="12"  >0</text></g>
<polyline points="667.90,89.10 676.60,85.60 685.30,89.10" fill="none" stroke="#000" stroke-width="1.0" stroke-linejoin="miter"/>
<line x1="621.90" y1="122.45" x2="652.00" y2="122.45" stroke="#ff8c00" stroke-width="3" stroke-linecap="round"/>
<g transform="translate(667.41 131.60) scale(1.0921 1)"><text font-size="16.9"  >b</text></g>
<g transform="translate(678.30 133.25) scale(1.0000 1)"><text font-size="12"  >2</text></g>
<polyline points="667.90,115.35 676.60,111.85 685.30,115.35" fill="none" stroke="#000" stroke-width="1.0" stroke-linejoin="miter"/>
<line x1="621.90" y1="148.70" x2="652.00" y2="148.70" stroke="#ffc0cb" stroke-width="3" stroke-linecap="round"/>
<g transform="translate(667.41 157.85) scale(1.0921 1)"><text font-size="16.9"  >b</text></g>
<g transform="translate(678.44 159.50) scale(1.0000 1)"><text font-size="12"  >3</text></g>
<polyline points="667.90,141.60 676.60,138.10 685.30,141.60" fill="none" stroke="#000" stroke-width="1.0" stroke-linejoin="miter"/>
<line x1="470.65" y1="564.00" x2="746.00" y2="564.00" stroke="#000" stroke-width="2.0" />
<line x1="633.60" y1="327.45" x2="633.60" y2="565.00" stroke="#2a2a2a" stroke-width="1.25" stroke-dasharray="3.9 3.1"/>
<polyline points="681.50,563.85 683.80,563.79 686.10,563.40 688.40,562.47 690.70,560.44 693.00,556.39 695.30,549.15 697.60,537.48 699.90,520.67 702.20,499.27 704.50,475.54 706.80,453.44 709.10,437.60 711.40,431.84 713.70,437.60 716.00,453.44 718.30,475.54 720.60,499.27 722.90,520.67 725.20,537.48 727.50,549.15 729.80,556.39 732.10,560.44 734.40,563.85" fill="none" stroke="#ff0000" stroke-width="2.7" stroke-linejoin="round" stroke-linecap="round"/>
<polyline points="479.90,563.90 498.60,563.70 508.50,562.60 517.30,560.40 527.20,549.40 536.00,528.00 545.50,497.20 554.70,481.80 564.20,511.50 573.40,547.80 582.70,562.10 592.10,563.90" fill="none" stroke="#0000ff" stroke-width="2.7" stroke-linejoin="round" stroke-linecap="round"/>
<polyline points="653.69,563.85 655.99,552.69 658.29,528.37 660.59,478.57 662.89,408.16 665.19,347.69 667.49,335.54 669.79,380.40 672.09,451.73 674.39,511.76 676.69,545.50 678.99,559.02 681.29,562.98 683.59,563.85" fill="none" stroke="#006400" stroke-width="2.7" stroke-linejoin="round" stroke-linecap="round"/>
<polyline points="624.00,563.85 626.30,563.98 628.60,563.94 630.90,563.84 633.20,563.56 635.50,562.92 637.80,561.53 640.10,558.78 642.40,553.82 644.70,545.63 647.00,533.37 649.30,516.78 651.60,496.72 653.90,475.40 656.20,456.14 658.50,442.63 660.80,437.76 663.10,442.63 665.40,456.14 667.70,475.40 670.00,496.72 672.30,516.78 674.60,533.37 676.90,545.63 679.20,553.82 681.50,558.78 683.80,563.85" fill="none" stroke="#a52a2a" stroke-width="2.7" stroke-linejoin="round" stroke-linecap="round"/>
<rect x="470.65" y="323.65" width="275.35" height="249.75" fill="none" stroke="#000" stroke-width="1"/>
<line x1="485.50" y1="573.40" x2="485.50" y2="581.90" stroke="#000" stroke-width="1" />
<g transform="translate(466.35 604.30) scale(1.0000 1)"><text font-size="19.4"  >−0.8</text></g>
<line x1="522.53" y1="573.40" x2="522.53" y2="581.90" stroke="#000" stroke-width="1" />
<line x1="559.57" y1="573.40" x2="559.57" y2="581.90" stroke="#000" stroke-width="1" />
<g transform="translate(540.42 604.30) scale(1.0000 1)"><text font-size="19.4"  >−0.4</text></g>
<line x1="596.60" y1="573.40" x2="596.60" y2="581.90" stroke="#000" stroke-width="1" />
<line x1="633.64" y1="573.40" x2="633.64" y2="581.90" stroke="#000" stroke-width="1" />
<g transform="translate(620.16 604.30) scale(1.0000 1)"><text font-size="19.4"  >0.0</text></g>
<line x1="670.68" y1="573.40" x2="670.68" y2="581.90" stroke="#000" stroke-width="1" />
<line x1="707.71" y1="573.40" x2="707.71" y2="581.90" stroke="#000" stroke-width="1" />
<g transform="translate(694.23 604.30) scale(1.0000 1)"><text font-size="19.4"  >0.4</text></g>
<line x1="744.75" y1="573.40" x2="744.75" y2="581.90" stroke="#000" stroke-width="1" />
<line x1="470.65" y1="564.00" x2="461.90" y2="564.00" stroke="#000" stroke-width="1" />
<g transform="translate(451.40 569.39) rotate(-90) scale(1.0000 1)"><text font-size="19.4"  >0</text></g>
<line x1="470.65" y1="495.17" x2="461.90" y2="495.17" stroke="#000" stroke-width="1" />
<g transform="translate(451.40 500.56) rotate(-90) scale(1.0000 1)"><text font-size="19.4"  >5</text></g>
<line x1="470.65" y1="426.33" x2="461.90" y2="426.33" stroke="#000" stroke-width="1" />
<g transform="translate(451.40 437.12) rotate(-90) scale(1.0000 1)"><path transform="translate(0.000 0) scale(19.4)" d="M0.337 0L0.337 -0.703L0.270 -0.703C0.254 -0.622 0.193 -0.574 0.079 -0.568L0.079 -0.505L0.249 -0.505L0.249 0Z"/><text x="10.790" font-size="19.4" >0</text></g>
<line x1="470.65" y1="357.50" x2="461.90" y2="357.50" stroke="#000" stroke-width="1" />
<g transform="translate(451.40 368.28) rotate(-90) scale(1.0000 1)"><path transform="translate(0.000 0) scale(19.4)" d="M0.337 0L0.337 -0.703L0.270 -0.703C0.254 -0.622 0.193 -0.574 0.079 -0.568L0.079 -0.505L0.249 -0.505L0.249 0Z"/><text x="10.790" font-size="19.4" >5</text></g>
<g transform="translate(488.01 628.20) scale(1.0053 1)"><text font-size="27.6"  >parameter estimate</text></g>
<g transform="translate(417.80 569.78) rotate(-90) scale(1.0016 1)"><text font-size="27.6"  >posterior probability</text></g>
<g transform="translate(489.74 362.20) scale(0.9721 1)"><text font-size="39.6"  >D</text></g>
<line x1="538.70" y1="367.60" x2="568.60" y2="367.60" stroke="#ff0000" stroke-width="3" stroke-linecap="round"/>
<g transform="translate(585.32 373.80) scale(0.8854 1)"><text font-size="18" font-family="Liberation Serif, serif" >γ</text></g>
<g transform="translate(591.99 376.40) scale(1.0000 1)"><text font-size="12"  >a</text></g>
<polyline points="584.30,362.30 591.95,358.60 599.60,362.30" fill="none" stroke="#000" stroke-width="1.0" stroke-linejoin="miter"/>
<line x1="538.70" y1="393.85" x2="568.60" y2="393.85" stroke="#0000ff" stroke-width="3" stroke-linecap="round"/>
<g transform="translate(584.52 402.45) scale(1.0921 1)"><text font-size="16.9"  >d</text></g>
<polyline points="584.30,388.25 589.50,384.65 594.70,388.25" fill="none" stroke="#000" stroke-width="1.0" stroke-linejoin="miter"/>
<line x1="538.70" y1="420.10" x2="568.60" y2="420.10" stroke="#006400" stroke-width="3" stroke-linecap="round"/>
<g transform="translate(584.52 428.70) scale(1.0921 1)"><text font-size="16.9"  >d</text></g>
<g transform="translate(595.13 430.40) scale(1.0000 1)"><text font-size="12"  >0</text></g>
<polyline points="584.30,413.50 593.00,409.70 601.70,413.50" fill="none" stroke="#000" stroke-width="1.0" stroke-linejoin="miter"/>
<line x1="538.70" y1="446.35" x2="568.60" y2="446.35" stroke="#a52a2a" stroke-width="3" stroke-linecap="round"/>
<g transform="translate(584.52 454.95) scale(1.0921 1)"><text font-size="16.9"  >d</text></g>
<g transform="translate(595.35 456.65) scale(1.0000 1)"><path transform="translate(0.000 0) scale(12)" d="M0.337 0L0.337 -0.703L0.270 -0.703C0.254 -0.622 0.193 -0.574 0.079 -0.568L0.079 -0.505L0.249 -0.505L0.249 0Z"/></g>
<polyline points="584.30,439.75 593.00,435.95 601.70,439.75" fill="none" stroke="#000" stroke-width="1.0" stroke-linejoin="miter"/>
</svg>
</body></html>
